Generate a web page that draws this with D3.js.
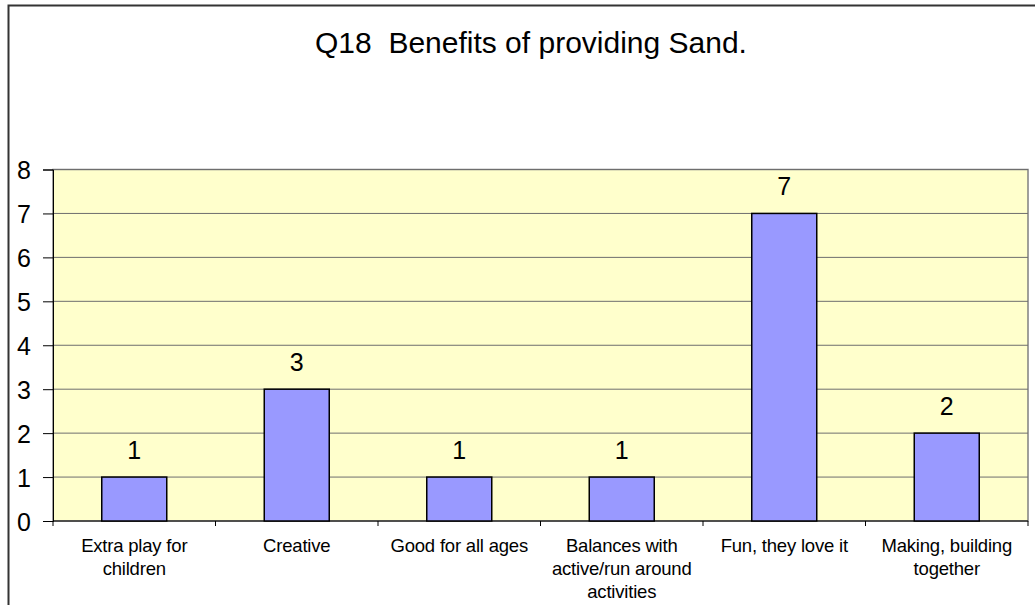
<!DOCTYPE html>
<html>
<head>
<meta charset="utf-8">
<script src="https://cdn.jsdelivr.net/npm/d3@7"></script>
<style>
  html, body { margin: 0; padding: 0; background: #ffffff; }
  svg { display: block; font-family: "Liberation Sans", Arial, sans-serif; }
</style>
</head>
<body>
<svg id="chart" width="1035" height="605"></svg>
<script>
// Survey answers: benefits of providing sand
const categories = [
  ["Extra play for", "children"],
  ["Creative"],
  ["Good for all ages"],
  ["Balances with", "active/run around", "activities"],
  ["Fun, they love it"],
  ["Making, building", "together"]
];
const counts = [1, 3, 1, 1, 7, 2];
const yTicks = [0, 1, 2, 3, 4, 5, 6, 7, 8];
const titleText = "Q18\u00a0 Benefits of providing Sand.";

const svg = d3.select("#chart");
const plot = { left: 53, right: 1028, top: 169.5, bottom: 521 };

// Outer chart frame
svg.append("rect")
  .attr("x", 8.5).attr("y", 5.5)
  .attr("width", 1040).attr("height", 620)
  .attr("fill", "#ffffff")
  .attr("stroke", "#333333").attr("stroke-width", 2);

// Title
svg.append("text")
  .attr("x", 531).attr("y", 53)
  .attr("text-anchor", "middle")
  .attr("font-size", 30)
  .attr("fill", "#000")
  .text(titleText);

const x = d3.scaleBand()
  .domain(d3.range(categories.length))
  .range([plot.left, plot.right])
  .paddingInner(0.6).paddingOuter(0.3);

const xCat = d3.scaleBand()
  .domain(d3.range(categories.length))
  .range([plot.left, plot.right]);

const y = d3.scaleLinear().domain([0, 8]).range([plot.bottom, plot.top]);

// Plot background
svg.append("rect")
  .attr("x", plot.left).attr("y", plot.top)
  .attr("width", plot.right - plot.left).attr("height", plot.bottom - plot.top)
  .attr("fill", "#FFFFCC")
  .attr("stroke", "#808080").attr("stroke-width", 1.5);

// Horizontal gridlines
svg.append("g").selectAll("line")
  .data(yTicks.filter(t => t > 0))
  .join("line")
  .attr("x1", plot.left).attr("x2", plot.right)
  .attr("y1", d => y(d)).attr("y2", d => y(d))
  .attr("stroke", "#6e6e6e").attr("stroke-width", 1);

// Y axis
const yAxis = d3.axisLeft(y).tickValues(yTicks).tickSize(10).tickPadding(12);
const gy = svg.append("g").attr("transform", `translate(${plot.left},0)`).call(yAxis);
gy.select(".domain").attr("stroke", "#000").attr("stroke-width", 1);
gy.selectAll(".tick line").attr("stroke", "#000");
gy.selectAll(".tick text")
  .attr("font-size", 25).attr("fill", "#000")
  .attr("font-family", "Liberation Sans, Arial, sans-serif")
  .attr("dy", "0.36em");

// X axis with ticks between categories
const gx = svg.append("g").attr("transform", `translate(0,${plot.bottom})`);
gx.append("line")
  .attr("x1", plot.left).attr("x2", plot.right)
  .attr("y1", 0).attr("y2", 0)
  .attr("stroke", "#000").attr("stroke-width", 1);
gx.selectAll("line.tk")
  .data(d3.range(categories.length + 1))
  .join("line").attr("class", "tk")
  .attr("x1", i => plot.left + i * xCat.step())
  .attr("x2", i => plot.left + i * xCat.step())
  .attr("y1", 0).attr("y2", 5)
  .attr("stroke", "#000");

// Category labels
const lab = gx.selectAll("text.cat")
  .data(categories)
  .join("text").attr("class", "cat")
  .attr("text-anchor", "middle")
  .attr("font-size", 18.5)
  .attr("letter-spacing", -0.2)
  .attr("fill", "#000")
  .attr("transform", (d, i) => `translate(${xCat(i) + xCat.bandwidth() / 2},31)`);
lab.selectAll("tspan")
  .data(d => d)
  .join("tspan")
  .attr("x", 0)
  .attr("dy", (d, j) => j === 0 ? 0 : 23)
  .text(d => d);

// Bars
svg.append("g").selectAll("rect")
  .data(counts)
  .join("rect")
  .attr("x", (d, i) => x(i))
  .attr("width", x.bandwidth())
  .attr("y", d => y(d))
  .attr("height", d => y(0) - y(d))
  .attr("fill", "#9999FF")
  .attr("stroke", "#000").attr("stroke-width", 1.5);

// Value labels
svg.append("g").selectAll("text")
  .data(counts)
  .join("text")
  .attr("x", (d, i) => x(i) + x.bandwidth() / 2)
  .attr("y", d => y(d) - 18)
  .attr("text-anchor", "middle")
  .attr("font-size", 25)
  .attr("fill", "#000")
  .text(d => d);
</script>
</body>
</html>
